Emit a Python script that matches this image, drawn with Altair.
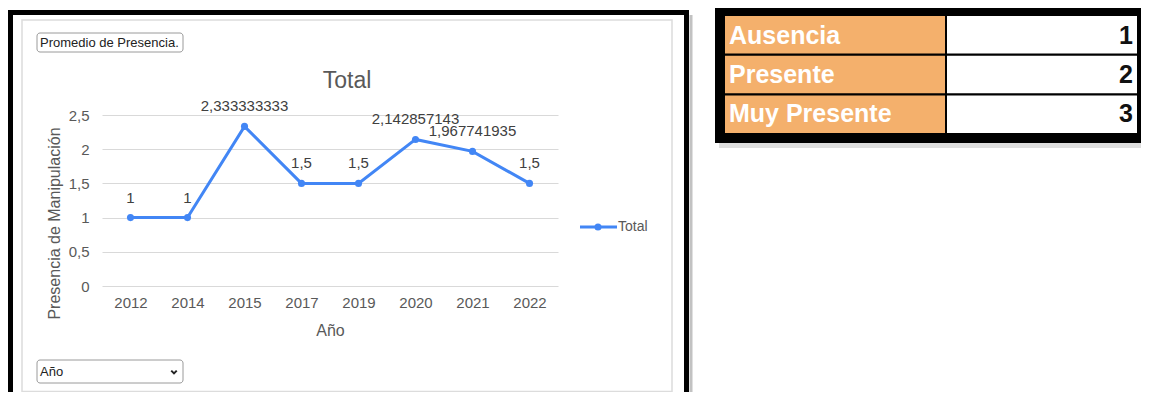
import altair as alt
import pandas as pd

# ---------------- data ----------------
anios = ["2012", "2014", "2015", "2017", "2019", "2020", "2021", "2022"]
valores = [1, 1, 2.333333333, 1.5, 1.5, 2.142857143, 1.967741935, 1.5]
serie = "Total"
y_ticks = [0, 0.5, 1, 1.5, 2, 2.5]
niveles = ["Ausencia", "Presente", "Muy Presente"]
puntajes = [1, 2, 3]

FONT = "Liberation Sans"
GRAY = "#595959"
BLUE = "#4286F5"
ORANGE = "#F4B06C"

df = pd.DataFrame({"anio": anios, "valor": valores, "serie": serie})
tabla = pd.DataFrame({"nivel": niveles, "puntaje": puntajes})
one = pd.DataFrame({"k": [0]})

# ---------------- line chart ----------------
x_enc = alt.X(
    "anio:O", sort=anios,
    scale=alt.Scale(type="point", padding=0.5),
    axis=alt.Axis(
        title="Año", labelAngle=0, labelFont=FONT, labelFontSize=15, labelColor=GRAY,
        labelPadding=9, ticks=False, domain=False, grid=False,
        titleFont=FONT, titleFontSize=16, titleColor=GRAY, titleFontWeight="normal",
        titleBaseline="alphabetic", titleY=49,
    ),
)
y_scale = alt.Scale(domain=[0, 2.5], nice=False, zero=True)
y_enc = alt.Y(
    "valor:Q", scale=y_scale,
    axis=alt.Axis(
        values=y_ticks, labelExpr="replace(format(datum.value, '~g'), '.', ',')",
        labelFont=FONT, labelFontSize=15, labelColor=GRAY, labelPadding=13,
        ticks=False, domain=False, grid=True, gridColor="#d9d9d9", gridWidth=1,
        title="Presencia de Manipulación", titleFont=FONT, titleFontSize=16,
        titleColor=GRAY, titleFontWeight="normal", titleAngle=270,
        titleBaseline="alphabetic", titleX=-43, titleY=108, titleAlign="center",
    ),
)

base = alt.Chart(df)
line = base.mark_line(color=BLUE, strokeWidth=3).encode(x=x_enc, y=y_enc)
pts = base.mark_circle(color=BLUE, size=50, opacity=1).encode(x=x_enc, y=y_enc)
lbls = base.transform_calculate(
    lbl="replace(toString(datum.valor), '.', ',')"
).mark_text(
    dy=-15, baseline="alphabetic", fontSize=15, color="#404040", font=FONT
).encode(x=x_enc, y=y_enc, text="lbl:N")
linechart = alt.layer(line, pts, lbls)

# ---------------- decorations (frame, buttons, title, legend) ----------------
d = alt.Chart(one)
outer = d.mark_rect(fillOpacity=0, stroke="black", strokeWidth=5).encode(
    x=alt.value(-91.5), x2=alt.value(584.5), y=alt.value(-102.5), y2=alt.value(300))
shadow_r = d.mark_rule(color="#9a9a9a", strokeWidth=3, opacity=0.6).encode(
    x=alt.value(589), y=alt.value(-100), y2=alt.value(300))
inner = d.mark_rect(fillOpacity=0, stroke="#dcdcdc", strokeWidth=1.5).encode(
    x=alt.value(-80), x2=alt.value(570), y=alt.value(-95), y2=alt.value(276.5))
btn = d.mark_rect(fill="white", stroke="#9a9a9a", strokeWidth=1, cornerRadius=3).encode(
    x=alt.value(-65), x2=alt.value(81), y=alt.value(-82), y2=alt.value(-63))
btn_t = d.mark_text(align="left", baseline="middle", fontSize=13, font=FONT, color="#222").encode(
    x=alt.value(-62), y=alt.value(-72.5), text=alt.value("Promedio de Presencia."))
dd = d.mark_rect(fill="white", stroke="#9a9a9a", strokeWidth=1, cornerRadius=3).encode(
    x=alt.value(-65), x2=alt.value(81), y=alt.value(245), y2=alt.value(268))
dd_t = d.mark_text(align="left", baseline="middle", fontSize=13, font=FONT, color="#222").encode(
    x=alt.value(-62), y=alt.value(256.5), text=alt.value("Año"))
dd_c = d.mark_point(shape="M-1,-0.5L0,0.5L1,-0.5", filled=False, stroke="#222", strokeWidth=2,
                    size=30, opacity=1).encode(x=alt.value(72), y=alt.value(257))
title_t = d.mark_text(align="center", baseline="alphabetic", fontSize=23, font=FONT, color=GRAY).encode(
    x=alt.value(245), y=alt.value(-27), text=alt.value(serie))
leg_r = d.mark_rule(color=BLUE, strokeWidth=3).encode(
    x=alt.value(478), x2=alt.value(515), y=alt.value(112))
leg_p = d.mark_circle(color=BLUE, size=50, opacity=1).encode(x=alt.value(496), y=alt.value(112))
leg_t = d.mark_text(align="left", baseline="middle", fontSize=14, font=FONT, color=GRAY).encode(
    x=alt.value(516), y=alt.value(112), text=alt.value(serie))

# ---------------- table ----------------
tbg = d.mark_rect(fill="black").encode(
    x=alt.value(613), x2=alt.value(1039), y=alt.value(-107), y2=alt.value(28))
tsh = d.mark_rect(fill="#dedede").encode(
    x=alt.value(617), x2=alt.value(1039), y=alt.value(28), y2=alt.value(33))
row_y = alt.Y("nivel:N", sort=niveles,
              scale=alt.Scale(domain=niveles, range=[-99, 18], paddingInner=0.06, paddingOuter=0),
              axis=None)
t = alt.Chart(tabla)
t_or = t.mark_rect(fill=ORANGE).encode(y=row_y, x=alt.value(623), x2=alt.value(843))
t_wh = t.mark_rect(fill="white").encode(y=row_y, x=alt.value(845), x2=alt.value(1035))
t_lb = t.mark_text(align="left", baseline="middle", fontSize=25, fontWeight="bold",
                   font=FONT, color="white").encode(y=row_y, x=alt.value(627), text="nivel:N")
t_nm = t.mark_text(align="right", baseline="middle", fontSize=25, fontWeight="bold",
                   font=FONT, color="#111").encode(y=row_y, x=alt.value(1031), text="puntaje:Q")

chart = alt.layer(
    outer, shadow_r, inner, btn, btn_t, dd, dd_t, dd_c, title_t,
    linechart, leg_r, leg_p, leg_t,
    tbg, tsh, t_or, t_wh, t_lb, t_nm,
).resolve_scale(y="independent", x="independent").properties(
    width=456, height=171,
    padding={"left": 94, "top": 107, "right": 583, "bottom": 106},
    autosize=alt.AutoSizeParams(type="none"),
    background="white",
).configure_view(stroke=None)

chart.save("out.html", embed_options={"renderer": "svg", "actions": False})
